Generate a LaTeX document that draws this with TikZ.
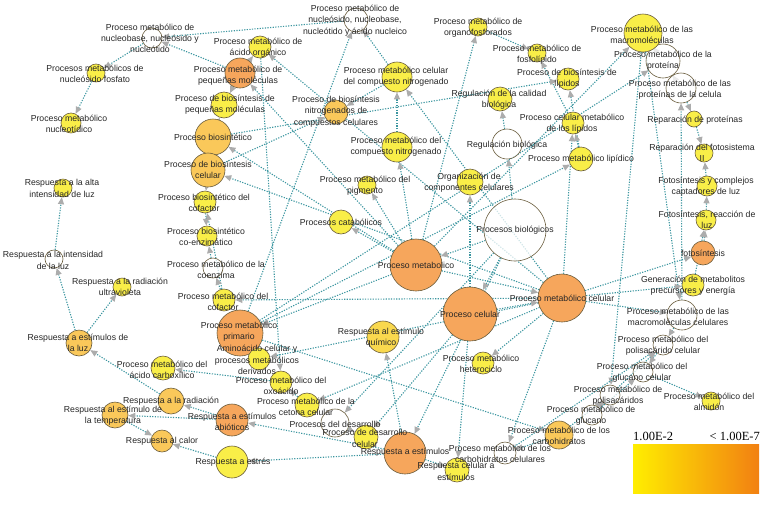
\documentclass[tikz,border=0pt]{standalone}
\usepackage{fontspec}
\setmainfont{Liberation Sans}
\newfontfamily\legfont{Liberation Serif}
\usetikzlibrary{arrows.meta}
\pgfdeclarelayer{bg}
\pgfsetlayers{bg,main}
\definecolor{ylw}{RGB}{249,238,72}
\definecolor{ylo}{RGB}{249,216,78}
\definecolor{lor}{RGB}{250,200,90}
\definecolor{org}{RGB}{246,166,92}
\definecolor{bord}{RGB}{105,92,60}
\definecolor{edgec}{RGB}{60,150,160}
\definecolor{arrg}{RGB}{172,172,172}
\definecolor{legY}{RGB}{255,238,0}
\definecolor{legO}{RGB}{242,128,18}
\tikzset{
  gcirc/.style={circle,draw=bord,line width=0.6pt,inner sep=0pt},
  wh/.style={fill=white,fill opacity=0.75},
  lbl/.style={font=\fontsize{8.7}{11.3}\selectfont,align=center,inner sep=0pt,text=black!85},
  gedge/.style={draw=edgec,line width=1.1pt,dash pattern=on 1.2pt off 1.4pt,
     -{Triangle[length=7pt,width=6pt,color=arrg]}}
}
\newcommand\gonode[5]{\node[gcirc,#5,minimum size={2*#4 pt}] (#1) at (#2,#3) {};}
\begin{document}
\begin{tikzpicture}[x=1pt,y=-1pt]
\useasboundingbox (0,0) rectangle (762,504);
% circles
\gonode{n1}{152}{38}{10}{wh}
\gonode{n2}{96}{73}{9}{fill=ylw}
\gonode{n3}{71}{123}{10}{fill=ylw}
\gonode{n4}{260}{47}{11}{fill=ylw}
\gonode{n5}{240}{73}{15}{fill=org}
\gonode{n6}{224}{105}{13}{fill=ylw}
\gonode{n7}{213}{137}{18}{fill=lor}
\gonode{n8}{208}{170}{17}{fill=lor}
\gonode{n9}{205}{202}{11}{fill=ylw}
\gonode{n10}{207}{236}{10}{fill=ylw}
\gonode{n11}{213}{268}{10}{wh}
\gonode{n12}{224}{300}{11}{fill=ylw}
\gonode{n13}{240}{333}{23}{fill=org}
\gonode{n14}{259}{359}{11}{fill=ylw}
\gonode{n15}{163}{368}{12}{fill=ylw}
\gonode{n16}{281}{382}{11}{fill=ylw}
\gonode{n17}{307}{405}{12}{fill=ylw}
\gonode{n18}{335}{423}{14}{wh}
\gonode{n19}{366}{437}{12}{fill=ylw}
\gonode{n20}{405}{453}{21}{fill=org}
\gonode{n21}{457}{470}{12}{fill=ylw}
\gonode{n22}{505}{453}{11}{wh}
\gonode{n23}{559}{435}{14}{fill=lor}
\gonode{n24}{592}{415}{10}{wh}
\gonode{n25}{610}{395}{10}{wh}
\gonode{n26}{643}{372}{10}{wh}
\gonode{n27}{663}{345}{10}{wh}
\gonode{n28}{711}{401}{9}{fill=ylw}
\gonode{n29}{682}{315}{15}{wh}
\gonode{n30}{693}{285}{11}{fill=ylw}
\gonode{n31}{703}{253}{12}{fill=org}
\gonode{n32}{706}{220}{10}{fill=ylw}
\gonode{n33}{707}{186}{10}{fill=ylw}
\gonode{n34}{704}{153}{9}{fill=ylw}
\gonode{n35}{694}{119}{8}{fill=ylw}
\gonode{n36}{681}{88}{15}{wh}
\gonode{n37}{663}{61}{17}{wh}
\gonode{n38}{643}{33}{19}{fill=ylw}
\gonode{n39}{537}{53}{9}{fill=ylw}
\gonode{n40}{568}{79}{11}{fill=ylw}
\gonode{n41}{478}{27}{9}{fill=ylw}
\gonode{n42}{356}{20}{12}{wh}
\gonode{n43}{397}{77}{15}{fill=ylw}
\gonode{n44}{336}{112}{12}{fill=lor}
\gonode{n45}{397}{147}{15}{fill=ylw}
\gonode{n46}{500}{99}{12}{fill=ylw}
\gonode{n47}{507}{144}{15}{wh}
\gonode{n48}{573}{123}{11}{fill=ylw}
\gonode{n49}{581}{159}{12}{fill=ylw}
\gonode{n50}{470}{182}{13}{fill=ylw}
\gonode{n51}{515}{230}{31}{wh}
\gonode{n52}{416}{265}{26}{fill=org}
\gonode{n53}{470}{314}{27}{fill=org}
\gonode{n54}{562}{298}{24}{fill=org}
\gonode{n55}{341}{222}{12}{fill=ylw}
\gonode{n56}{367}{185}{9}{fill=ylw}
\gonode{n57}{383}{337}{16}{fill=ylo}
\gonode{n58}{483}{363}{11}{fill=ylw}
\gonode{n59}{63}{188}{9}{fill=ylw}
\gonode{n60}{54}{259}{9}{wh}
\gonode{n61}{122}{287}{9}{fill=ylw}
\gonode{n62}{79}{343}{13}{fill=lor}
\gonode{n63}{171}{401}{13}{fill=lor}
\gonode{n64}{232}{420}{16}{fill=org}
\gonode{n65}{115}{415}{13}{fill=lor}
\gonode{n66}{162}{441}{11}{fill=lor}
\gonode{n67}{232}{462}{16}{fill=ylw}
% edges
\begin{pgfonlayer}{bg}
\foreach \a/\b in {n42/n1,n5/n1,n1/n2,n2/n3,n13/n42,n43/n42,n5/n4,n54/n4,n52/n5,n5/n6,
 n7/n6,n52/n7,n7/n8,n54/n8,n8/n9,n12/n9,n9/n10,n11/n10,n12/n11,n54/n12,n52/n13,n13/n14,
 n54/n14,n16/n15,n4/n16,n17/n16,n54/n17,n51/n18,n18/n19,n53/n19,n51/n20,n20/n21,n53/n21,
 n54/n22,n23/n22,n13/n23,n25/n24,n23/n25,n38/n25,n24/n26,n27/n26,n25/n27,n22/n27,n29/n27,
 n26/n28,n38/n29,n54/n29,n54/n30,n54/n31,n31/n32,n30/n32,n32/n33,n35/n34,n33/n34,n36/n35,
 n37/n36,n29/n36,n38/n37,n13/n37,n52/n38,n48/n39,n41/n39,n49/n40,n7/n40,n52/n41,n43/n44,
 n8/n44,n52/n45,n45/n43,n54/n43,n47/n46,n51/n47,n54/n48,n49/n48,n13/n49,n53/n50,n51/n52,
 n51/n53,n52/n54,n53/n54,n52/n55,n52/n56,n20/n57,n54/n58,n60/n59,n62/n60,n62/n61,n63/n62,
 n64/n63,n20/n64,n64/n65,n65/n66,n67/n66,n20/n67}
 \draw[gedge] (\a) -- (\b);
\end{pgfonlayer}
% labels
\node[lbl] (l1) at (150,38.5) {Proceso metabólico de\\nucleobase, nucleósido y\\nucleótido};
\node[lbl] (l2) at (95,73.5) {Procesos metabólicos de\\nucleósido fosfato};
\node[lbl] (l3) at (69,123.5) {Proceso metabólico\\nucleotídico};
\node[lbl] (l4) at (258,47.5) {Proceso metabólico de\\ácido orgánico};
\node[lbl] (l5) at (238,75.5) {Proceso metabólico de\\pequeñas moléculas};
\node[lbl] (l6) at (225,104.5) {Proceso de biosíntesis de\\pequeñas moléculas};
\node[lbl] (l7) at (213,137) {Proceso biosintético};
\node[lbl] (l8) at (208,169.5) {Proceso de biosíntesis\\celular};
\node[lbl] (l9) at (204,202.5) {Proceso biosintético del\\cofactor};
\node[lbl] (l10) at (206,236.5) {Proceso biosintético\\co-enzimático};
\node[lbl] (l11) at (216,270) {Proceso metabólico de la\\coenzima};
\node[lbl] (l12) at (223,301.5) {Proceso metabólico del\\cofactor};
\node[lbl] (l13) at (239,331.5) {Proceso metabólico\\primario};
\node[lbl] (l14) at (257,360) {Aminoácido celular y\\procesos metabólicos\\derivados};
\node[lbl] (l15) at (162,369.5) {Proceso metabólico del\\ácido carboxílico};
\node[lbl] (l16) at (281,385.5) {Proceso metabólico del\\oxoácido};
\node[lbl] (l17) at (306,406.5) {Proceso metabólico de la\\cetona celular};
\node[lbl] (l18) at (335,424) {Procesos del desarrollo};
\node[lbl] (l19) at (365,438.5) {Proceso de desarrollo\\celular};
\node[lbl] (l20) at (405,452) {Respuesta a estímulos};
\node[lbl] (l21) at (456,471.5) {Respuesta celular a\\estímulos};
\node[lbl] (l22) at (500,453.5) {Proceso metabólico de los\\carbohidratos celulares};
\node[lbl] (l23) at (559,436) {Proceso metabólico de los\\carbohidratos};
\node[lbl] (l24) at (591,415.5) {Proceso metabólico de\\glucano};
\node[lbl] (l25) at (618,396) {Proceso metabólico de\\polisacáridos};
\node[lbl] (l26) at (642,372.5) {Proceso metabólico del\\glucano celular};
\node[lbl] (l27) at (663,346) {Proceso metabólico del\\polisacárido celular};
\node[lbl] (l28) at (709,401.5) {Proceso metabólico del\\almidón};
\node[lbl] (l29) at (678,317) {Proceso metabólico de las\\macromoléculas celulares};
\node[lbl] (l30) at (693,286) {Generación de metabolitos\\precursores y energía};
\node[lbl] (l31) at (703,253) {fotosíntesis};
\node[lbl] (l32) at (707,220) {Fotosíntesis, reacción de\\luz};
\node[lbl] (l33) at (706,186.5) {Fotosíntesis y complejos\\captadores de luz};
\node[lbl] (l34) at (702,152.5) {Reparación del fotosistema\\II};
\node[lbl] (l35) at (695,120) {Reparación de proteínas};
\node[lbl] (l36) at (680,89.5) {Proceso metabólico de las\\proteínas de la celula};
\node[lbl] (l37) at (663,60.5) {Proceso metabólico de la\\proteína};
\node[lbl] (l38) at (642,34.5) {Proceso metabólico de las\\macromoléculas};
\node[lbl] (l39) at (537,54.5) {Proceso metabólico de\\fosfolípido};
\node[lbl] (l40) at (567,78.5) {Proceso de biosíntesis de\\lípidos};
\node[lbl] (l41) at (478,27.5) {Proceso metabólico de\\organofosforados};
\node[lbl] (l42) at (355,20.5) {Proceso metabólico de\\nucleósido, nucleobase,\\nucleótido y ácido nucleico};
\node[lbl] (l43) at (396,76.5) {Proceso metabólico celular\\del compuesto nitrogenado};
\node[lbl] (l44) at (336,111.5) {Proceso de biosíntesis\\nitrogenados de\\compuestos celulares};
\node[lbl] (l45) at (396,146.5) {Proceso metabólico del\\compuesto nitrogenado};
\node[lbl] (l46) at (499,100) {Regulación de la calidad\\biológica};
\node[lbl] (l47) at (507,145) {Regulación biológica};
\node[lbl] (l48) at (572,123.5) {Proceso celular metabólico\\de los lípidos};
\node[lbl] (l49) at (581,159) {Proceso metabólico lipídico};
\node[lbl] (l50) at (469,182.5) {Organización de\\componentes celulares};
\node[lbl] (l51) at (515,230) {Procesos biológicos};
\node[lbl] (l52) at (416,265) {Proceso metabolico};
\node[lbl] (l53) at (470,314) {Proceso celular};
\node[lbl] (l54) at (562,298) {Proceso metabólico celular};
\node[lbl] (l55) at (341,222) {Procesos catabólicos};
\node[lbl] (l56) at (365,185.5) {Proceso metabólico del\\pigmento};
\node[lbl] (l57) at (381,338) {Respuesta al estímulo\\químico};
\node[lbl] (l58) at (481,363.5) {Proceso metabólico\\heterociclo};
\node[lbl] (l59) at (62,188.5) {Respuesta a la alta\\intensidad de luz};
\node[lbl] (l60) at (53,260.5) {Respuesta a la intensidad\\de la luz};
\node[lbl] (l61) at (120,286.5) {Respuesta a la radiación\\ultravioleta};
\node[lbl] (l62) at (78,343) {Respuesta a estímulos de\\la luz};
\node[lbl] (l63) at (171,401) {Respuesta a la radiación};
\node[lbl] (l64) at (232,422) {Respuesta a estímulos\\abióticos};
\node[lbl] (l65) at (113,416) {Respuesta al estímulo de\\la temperatura};
\node[lbl] (l66) at (162,441) {Respuesta al calor};
\node[lbl] (l67) at (233,462) {Respuesta a estrés};
% legend
\shade[left color=legY,right color=legO] (633,444) rectangle (759,493);
\node[font=\legfont\fontsize{12.5}{14}\selectfont,anchor=west,inner sep=0pt] (legl) at (633,436) {1.00E-2};
\node[font=\legfont\fontsize{12.5}{14}\selectfont,anchor=east,inner sep=0pt] (legr) at (760,436) {< 1.00E-7};
\end{tikzpicture}
\end{document}
